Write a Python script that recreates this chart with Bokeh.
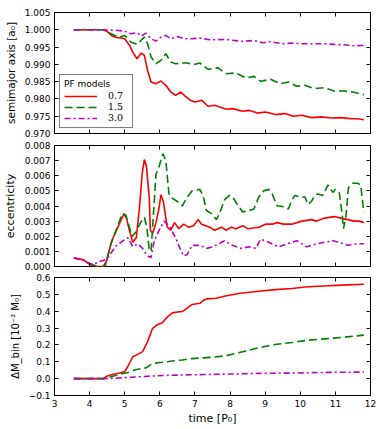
from bokeh.plotting import figure
from bokeh.layouts import column
from bokeh.models import Range1d, LinearAxis, FixedTicker, NumeralTickFormatter, Legend, LegendItem
from bokeh.embed import file_html
from bokeh.resources import INLINE

# ---------------- data ----------------
models = ["0.7", "1.5", "3.0"]

# semimajor axis [a0]
t_a_red = [3.55, 4.0, 4.39, 4.5, 4.62, 4.72, 4.81, 4.9, 5.0, 5.14, 5.23, 5.35, 5.47, 5.56, 5.65, 5.75,
           5.89, 6.03, 6.17, 6.31, 6.45, 6.59, 6.73, 6.87, 7.0, 7.2, 7.37, 7.56, 7.89, 8.07, 8.36, 8.54,
           8.78, 9.01, 9.29, 9.57, 9.8, 10.04, 10.32, 10.6, 10.88, 11.16, 11.44, 11.63, 11.81]
a_red = [1.0, 1.0, 1.0, 0.9995, 0.99836, 0.9979, 0.99768, 0.99765, 0.9974, 0.99547, 0.99355, 0.99163,
         0.99326, 0.99259, 0.98826, 0.98489, 0.98442, 0.98518, 0.98394, 0.98201, 0.98105, 0.9820,
         0.98076, 0.97961, 0.97913, 0.9796, 0.97788, 0.97817, 0.9770, 0.9772, 0.97643, 0.9767, 0.9759,
         0.9762, 0.97547, 0.97576, 0.9750, 0.97528, 0.9746, 0.9748, 0.9745, 0.9746, 0.97431, 0.97425, 0.9740]

t_a_green = [3.55, 4.0, 4.39, 4.53, 4.72, 4.86, 5.0, 5.18, 5.37, 5.47, 5.56, 5.65, 5.75, 5.89, 6.03,
             6.17, 6.31, 6.45, 6.59, 6.78, 6.96, 7.14, 7.37, 7.65, 7.89, 8.17, 8.45, 8.68, 8.87, 9.15,
             9.43, 9.66, 9.9, 10.13, 10.41, 10.69, 10.97, 11.25, 11.53, 11.81]
a_green = [1.0, 1.0, 1.0, 0.99932, 0.99836, 0.99787, 0.99836, 0.99642, 0.99576, 0.9970, 0.99787, 0.9960,
           0.99211, 0.99019, 0.99115, 0.99307, 0.99067, 0.99019, 0.99038, 0.99038, 0.9899, 0.99038,
           0.98855, 0.98903, 0.9873, 0.9875, 0.98605, 0.98653, 0.98509, 0.98567, 0.98442, 0.9849,
           0.98365, 0.98394, 0.98297, 0.98326, 0.9823, 0.9823, 0.98192, 0.98124]

t_a_mag = [3.55, 4.0, 4.39, 4.81, 5.0, 5.18, 5.35, 5.47, 5.6, 5.75, 5.89, 6.03, 6.17, 6.31, 6.5, 6.68,
           6.87, 7.14, 7.42, 7.89, 8.36, 8.68, 8.92, 9.15, 9.48, 9.76, 10.04, 10.32, 10.69, 10.97,
           11.25, 11.53, 11.81]
a_mag = [1.0, 1.0, 1.0, 0.99978, 0.99959, 0.99883, 0.9992, 0.99816, 0.99903, 0.9974, 0.99672, 0.99787,
         0.99836, 0.9974, 0.99807, 0.9974, 0.9974, 0.9976, 0.9971, 0.9972, 0.99663, 0.99692, 0.99625,
         0.99654, 0.99596, 0.99615, 0.99596, 0.99596, 0.99596, 0.99577, 0.99567, 0.99538, 0.99548]

# eccentricity
t_e_red = [3.55, 3.83, 4.0, 4.11, 4.39, 4.49, 4.63, 4.77, 4.9, 4.98, 5.05, 5.12, 5.23, 5.33, 5.42, 5.5,
           5.56, 5.62, 5.7, 5.73, 5.8, 5.9, 5.98, 6.03, 6.1, 6.21, 6.31, 6.42, 6.54, 6.68, 6.82, 6.96,
           7.09, 7.19, 7.42, 7.56, 7.75, 7.89, 8.03, 8.17, 8.36, 8.5, 8.82, 9.01, 9.2, 9.34, 9.52, 9.76,
           10.04, 10.32, 10.46, 10.69, 10.97, 11.16, 11.35, 11.53, 11.67, 11.81]
e_red = [0.00057, 0.00044, 0.00013, 0.0, 0.0, 0.0004, 0.0017, 0.0024, 0.0031, 0.00348, 0.0032, 0.0025,
         0.0016, 0.0019, 0.0039, 0.0062, 0.00707, 0.0066, 0.0045, 0.0024, 0.0022, 0.0030, 0.0039,
         0.00474, 0.0043, 0.0026, 0.0024, 0.0029, 0.0025, 0.0028, 0.0026, 0.0027, 0.0031, 0.0028,
         0.0026, 0.0024, 0.0026, 0.0024, 0.0026, 0.0025, 0.0027, 0.0025, 0.0026, 0.0028, 0.0028, 0.0029,
         0.0028, 0.0028, 0.0030, 0.0031, 0.0030, 0.0032, 0.0033, 0.0032, 0.0031, 0.0030, 0.0030, 0.0029]

t_e_green = [4.02, 4.2, 4.44, 4.58, 4.77, 4.93, 5.03, 5.12, 5.21, 5.33, 5.45, 5.56, 5.63, 5.7, 5.75,
             5.8, 5.89, 5.98, 6.06, 6.09, 6.17, 6.26, 6.36, 6.5, 6.64, 6.78, 6.92, 7.14, 7.23, 7.33, 7.47,
             7.61, 7.7, 7.84, 7.98, 8.07, 8.21, 8.36, 8.54, 8.68, 8.82, 8.96, 9.1, 9.2, 9.34, 9.43, 9.57,
             9.66, 9.76, 9.85, 9.99, 10.13, 10.22, 10.32, 10.41, 10.5, 10.64, 10.79, 10.93, 11.0, 11.11,
             11.19, 11.23, 11.3, 11.37, 11.49, 11.63, 11.72, 11.81]
e_green = [0.0002, 0.0, 0.0, 0.0013, 0.0025, 0.0035, 0.0034, 0.0027, 0.0020, 0.0023, 0.0029, 0.00326,
           0.0026, 0.0011, 0.001, 0.0028, 0.0061, 0.0066, 0.0073, 0.00745, 0.0070, 0.0048, 0.0045,
           0.0043, 0.0040, 0.0046, 0.0050, 0.0051, 0.0047, 0.0037, 0.0035, 0.0031, 0.0035, 0.0044,
           0.0047, 0.0046, 0.0041, 0.0036, 0.0037, 0.0038, 0.0046, 0.0050, 0.0051, 0.0048, 0.0040,
           0.0040, 0.0039, 0.0038, 0.0044, 0.0047, 0.0046, 0.0046, 0.0041, 0.0043, 0.0047, 0.0048,
           0.0047, 0.0054, 0.0049, 0.0051, 0.0049, 0.0035, 0.0025, 0.0033, 0.0052, 0.0055, 0.0055,
           0.0054, 0.0036]

t_e_mag = [3.55, 3.83, 4.0, 4.09, 4.25, 4.39, 4.49, 4.58, 4.77, 4.95, 5.09, 5.23, 5.37, 5.51, 5.65,
           5.75, 5.84, 5.98, 6.12, 6.26, 6.45, 6.59, 6.68, 6.78, 6.92, 7.14, 7.33, 7.51, 7.84, 8.07,
           8.31, 8.54, 8.73, 8.87, 9.1, 9.38, 9.62, 9.9, 10.18, 10.46, 10.69, 10.93, 11.11, 11.35,
           11.63, 11.81]
e_mag = [0.00057, 0.0004, 0.00018, 0.0001, 0.0003, 0.0004, 0.0005, 0.0008, 0.0014, 0.0017, 0.0019,
         0.0013, 0.0015, 0.0012, 0.0007, 0.0006, 0.0017, 0.0024, 0.0030, 0.0027, 0.0019, 0.0011,
         0.0007, 0.0008, 0.0014, 0.0014, 0.0012, 0.0013, 0.0017, 0.0014, 0.0012, 0.0013, 0.0012,
         0.0018, 0.0016, 0.0013, 0.0015, 0.0017, 0.0013, 0.0015, 0.0016, 0.0017, 0.0016, 0.0014,
         0.0015, 0.0015]

# accreted mass [1e-2 M0]
t_m_red = [3.55, 4.39, 4.49, 4.67, 4.86, 5.0, 5.09, 5.23, 5.37, 5.51, 5.65, 5.79, 5.93, 6.07, 6.21,
           6.36, 6.5, 6.64, 6.78, 6.92, 7.14, 7.23, 7.33, 7.61, 7.89, 8.17, 8.36, 8.82, 9.29, 9.76,
           10.22, 10.69, 11.16, 11.81]
m_red = [0.0, 0.0, 0.014, 0.026, 0.033, 0.042, 0.072, 0.13, 0.144, 0.16, 0.218, 0.297, 0.32, 0.332,
         0.365, 0.39, 0.395, 0.398, 0.418, 0.44, 0.447, 0.463, 0.473, 0.477, 0.492, 0.502, 0.508,
         0.518, 0.528, 0.535, 0.545, 0.55, 0.555, 0.56]

t_m_green = [3.55, 4.39, 4.58, 4.86, 5.09, 5.33, 5.61, 5.79, 6.07, 6.36, 6.64, 6.92, 7.51, 7.89, 8.36,
             8.82, 9.29, 9.76, 10.22, 10.69, 11.16, 11.81]
m_green = [0.0, 0.0, 0.01, 0.026, 0.036, 0.054, 0.064, 0.09, 0.097, 0.105, 0.111, 0.119, 0.127, 0.136,
           0.16, 0.183, 0.203, 0.214, 0.228, 0.236, 0.244, 0.258]

t_m_mag = [3.55, 4.39, 4.86, 5.33, 5.79, 6.26, 6.92, 7.89, 8.82, 9.76, 10.69, 11.81]
m_mag = [0.0, 0.0, 0.004, 0.01, 0.016, 0.02, 0.023, 0.027, 0.031, 0.033, 0.037, 0.039]

x_ticks = [3, 4, 5, 6, 7, 8, 9, 10, 11, 12]
a_ticks = [0.970, 0.975, 0.980, 0.985, 0.990, 0.995, 1.000, 1.005]
e_ticks = [0.000, 0.001, 0.002, 0.003, 0.004, 0.005, 0.006, 0.007, 0.008]
m_ticks = [-0.1, 0.0, 0.1, 0.2, 0.3, 0.4, 0.5, 0.6]

# ---------------- styling ----------------
RED, GREEN, MAG = "#ff0000", "#008000", "#bf00bf"
FONT = "DejaVu Sans"
W = 378
x_range = Range1d(3, 12)
GREEN_DASH = "8 4"
MAG_DASH = "6 3 2 3"


def style_axis(ax, show_labels):
    ax.major_tick_in = 4
    ax.major_tick_out = 0
    ax.minor_tick_line_color = None
    ax.axis_line_color = None
    ax.major_tick_line_color = "black"
    ax.major_label_text_font = FONT
    ax.major_label_text_font_size = "9px"
    ax.major_label_standoff = 4
    if show_labels:
        ax.major_label_text_color = "black"
    else:
        ax.major_label_text_color = None
        ax.major_label_standoff = 0


def make_fig(h, top, bottom, yr, yticks, yfmt, ylabel, ylabel_size, xlabels, xlabel=None):
    p = figure(width=W, height=h, x_range=x_range, y_range=yr,
               output_backend="svg", toolbar_location=None,
               min_border_left=50, min_border_right=8,
               min_border_top=top, min_border_bottom=bottom)
    p.outline_line_color = "black"
    p.outline_line_width = 1
    p.xgrid.visible = False
    p.ygrid.visible = False
    p.background_fill_color = "white"
    p.border_fill_color = "white"
    style_axis(p.xaxis[0], xlabels)
    style_axis(p.yaxis[0], True)
    p.xaxis[0].ticker = FixedTicker(ticks=x_ticks)
    p.yaxis[0].ticker = FixedTicker(ticks=yticks)
    p.yaxis[0].formatter = yfmt
    p.yaxis[0].axis_label = ylabel
    p.yaxis[0].axis_label_text_font = FONT
    p.yaxis[0].axis_label_text_font_size = ylabel_size
    p.yaxis[0].axis_label_text_font_style = "normal"
    p.yaxis[0].axis_label_text_color = "black"
    p.yaxis[0].axis_label_standoff = 5
    if xlabel:
        p.xaxis[0].axis_label = xlabel
        p.xaxis[0].axis_label_text_font = FONT
        p.xaxis[0].axis_label_text_font_size = "11px"
        p.xaxis[0].axis_label_text_font_style = "normal"
        p.xaxis[0].axis_label_text_color = "black"
        p.xaxis[0].axis_label_standoff = 2
    ra = LinearAxis(ticker=FixedTicker(ticks=yticks))
    style_axis(ra, False)
    p.add_layout(ra, "right")
    ta = LinearAxis(ticker=FixedTicker(ticks=x_ticks))
    style_axis(ta, False)
    p.add_layout(ta, "above")
    return p


p1 = make_fig(139, 12, 6, Range1d(0.970, 1.005), a_ticks, NumeralTickFormatter(format="0.000"),
              "semimajor axis [a₀]", "10.5px", False)
r1 = p1.line(t_a_red, a_red, line_color=RED, line_width=1.6)
g1 = p1.line(t_a_green, a_green, line_color=GREEN, line_width=1.6, line_dash=GREEN_DASH)
m1 = p1.line(t_a_mag, a_mag, line_color=MAG, line_width=1.6, line_dash=MAG_DASH)
leg = Legend(items=[LegendItem(label=models[0], renderers=[r1]),
                    LegendItem(label=models[1], renderers=[g1]),
                    LegendItem(label=models[2], renderers=[m1])],
             location="bottom_left", title="PF models")
leg.title_text_font = FONT
leg.title_text_font_size = "9px"
leg.title_text_font_style = "normal"
leg.title_text_color = "black"
leg.title_standoff = 1
leg.label_text_font = "DejaVu Serif"
leg.label_text_font_size = "9.5px"
leg.label_text_color = "black"
leg.label_height = 10
leg.glyph_height = 10
leg.glyph_width = 33
leg.label_standoff = 11
leg.spacing = 0
leg.padding = 4
leg.margin = 5
leg.border_line_color = "black"
leg.border_line_width = 1
leg.background_fill_alpha = 1
p1.add_layout(leg)

p2 = make_fig(132, 6, 5, Range1d(0.0, 0.008), e_ticks, NumeralTickFormatter(format="0.000"),
              "eccentricity", "11px", False)
p2.line(t_e_red, e_red, line_color=RED, line_width=1.6)
p2.line(t_e_green, e_green, line_color=GREEN, line_width=1.6, line_dash=GREEN_DASH)
p2.line(t_e_mag, e_mag, line_color=MAG, line_width=1.6, line_dash=MAG_DASH)

p3 = make_fig(156, 6, 28, Range1d(-0.1, 0.6), m_ticks, NumeralTickFormatter(format="0.0"),
              "ΔM_bin [10⁻² M₀]", "10px", True, "time [P₀]")
p3.yaxis[0].major_label_overrides = {-0.1: "−0.1"}
p3.line(t_m_red, m_red, line_color=RED, line_width=1.6)
p3.line(t_m_green, m_green, line_color=GREEN, line_width=1.6, line_dash=GREEN_DASH)
p3.line(t_m_mag, m_mag, line_color=MAG, line_width=1.6, line_dash=MAG_DASH)

layout = column(p1, p2, p3, spacing=0)
open("out.html", "w").write(file_html(layout, INLINE))
